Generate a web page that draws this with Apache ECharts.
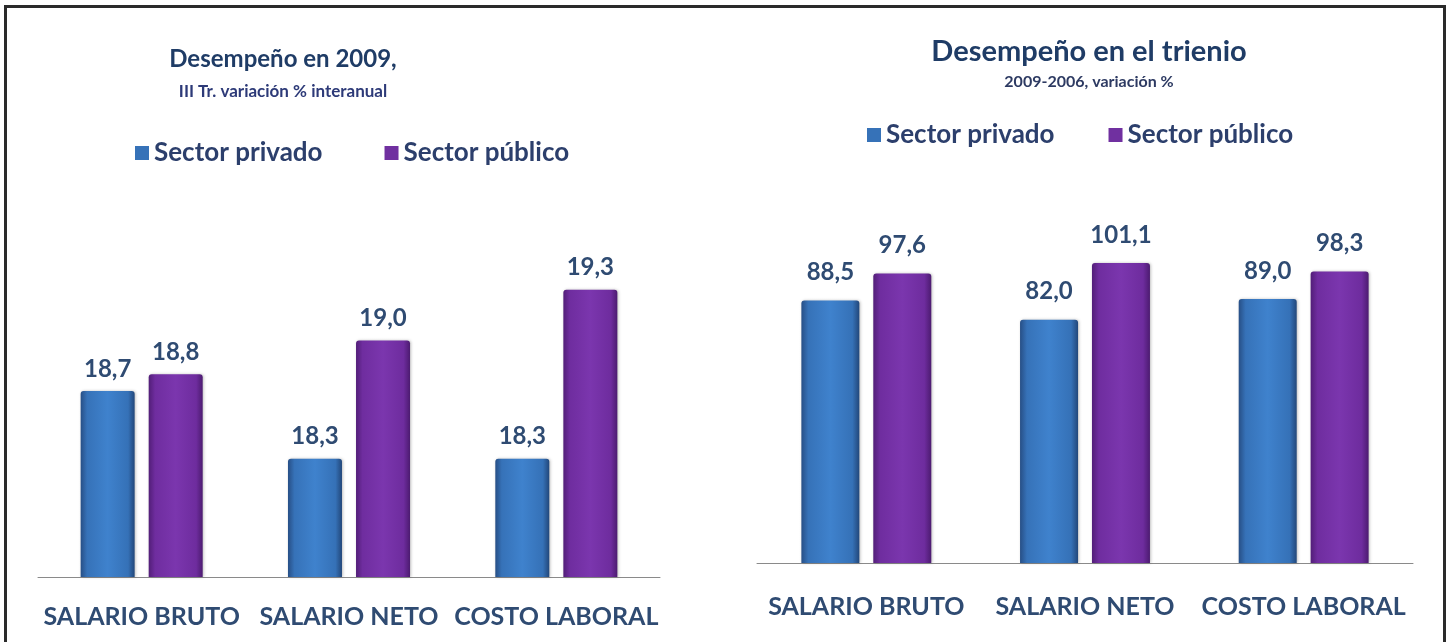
<!DOCTYPE html>
<html><head><meta charset="utf-8">
<script src="https://cdn.jsdelivr.net/npm/echarts@6/dist/echarts.min.js"></script>
<style>html,body{margin:0;padding:0;background:#fff;}#c{width:1452px;height:642px;}</style>
</head><body><div id="c"></div>
<script>
const categories = ['SALARIO BRUTO', 'SALARIO NETO', 'COSTO LABORAL'];
const seriesNames = ['Sector privado', 'Sector público'];
const leftPrivado = [18.7, 18.3, 18.3];
const leftPublico = [18.8, 19.0, 19.3];
const rightPrivado = [88.5, 82.0, 89.0];
const rightPublico = [97.6, 101.1, 98.3];
const leftTitle = 'Desempeño en 2009,';
const leftSubtitle = 'III Tr. variación % interanual';
const rightTitle = 'Desempeño en el trienio';
const rightSubtitle = '2009-2006, variación %';

const FONT = 'Lato, "Open Sans", sans-serif';
const G = echarts.graphic.LinearGradient;
const blueGrad = new G(0,0,1,0,[{offset:0,color:'#274f86'},{offset:0.12,color:'#3672b8'},{offset:0.5,color:'#3f82cd'},{offset:0.88,color:'#3571b7'},{offset:1,color:'#22477a'}]);
const purpGrad = new G(0,0,1,0,[{offset:0,color:'#521e78'},{offset:0.12,color:'#6f2d9f'},{offset:0.5,color:'#7b36ae'},{offset:0.88,color:'#6e2c9e'},{offset:1,color:'#4c1b70'}]);
const fmt = p => p.value.toFixed(1).replace('.', ',');

function bar(name, data, idx, color, bw, gap, dist){
  return {type:'bar', name, data, xAxisIndex:idx, yAxisIndex:idx, barWidth:bw, barGap:gap,
    itemStyle:{color, borderRadius:[3,3,0,0], shadowColor:'rgba(0,0,0,0.25)', shadowBlur:3, shadowOffsetX:1},
    label:{show:true, position:'top', distance:dist, formatter:fmt, fontFamily:FONT, fontWeight:'bold', fontSize:24, color:'#2f4b72'}};
}
const legendData = [{name:seriesNames[0], itemStyle:{color:'#3672b8'}},{name:seriesNames[1], itemStyle:{color:'#7030a0'}}];
const legendText = {fontFamily:FONT, fontWeight:'bold', fontSize:26, color:'#2c3f6c'};
const chart = echarts.init(document.getElementById('c'));
chart.setOption({
  animation:false,
  backgroundColor:'#ffffff',
  title:[
    {text:leftTitle, subtext:leftSubtitle, left:278, top:42, textAlign:'center', itemGap:12,
     textStyle:{fontFamily:FONT, fontWeight:'bold', fontSize:24, color:'#1f3c66'},
     subtextStyle:{fontFamily:FONT, fontWeight:'bold', fontSize:17, color:'#2d3a78'}},
    {text:rightTitle, subtext:rightSubtitle, left:1084, top:32, textAlign:'center', itemGap:8,
     textStyle:{fontFamily:FONT, fontWeight:'bold', fontSize:29, color:'#1f3c66'},
     subtextStyle:{fontFamily:FONT, fontWeight:'bold', fontSize:16, color:'#2d3a62'}}
  ],
  legend:[
    {data:legendData, left:130, top:135, itemWidth:14, itemHeight:14, icon:'rect', itemGap:62,
     textStyle:legendText, selectedMode:false},
    {data:legendData, left:862, top:117, itemWidth:14, itemHeight:14, icon:'rect', itemGap:54,
     textStyle:legendText, selectedMode:false}
  ],
  grid:[
    {left:38, width:622, top:239, height:338},
    {left:757, width:656, top:207, height:356}
  ],
  xAxis:[
    {type:'category', gridIndex:0, data:categories, axisTick:{show:false},
     axisLine:{lineStyle:{color:'#8a8a8a', width:1}},
     axisLabel:{interval:0, margin:27, fontFamily:FONT, fontWeight:'bold', fontSize:25, color:'#2f4b72'}},
    {type:'category', gridIndex:1, data:categories, axisTick:{show:false},
     axisLine:{lineStyle:{color:'#8a8a8a', width:1}},
     axisLabel:{interval:0, margin:31, fontFamily:FONT, fontWeight:'bold', fontSize:25, color:'#2f4b72'}}
  ],
  yAxis:[
    {type:'value', gridIndex:0, min:17.6, max:19.6, show:false, splitLine:{show:false}},
    {type:'value', gridIndex:1, min:0, max:120, show:false, splitLine:{show:false}}
  ],
  series:[
    bar(seriesNames[0], leftPrivado, 0, blueGrad, 54, '26%', 10),
    bar(seriesNames[1], leftPublico, 0, purpGrad, 54, '26%', 10),
    bar(seriesNames[0], rightPrivado, 1, blueGrad, 58, '24%', 16),
    bar(seriesNames[1], rightPublico, 1, purpGrad, 58, '24%', 16)
  ],
  graphic:[
    {type:'rect', shape:{x:5.5, y:6.5, width:1439, height:660}, style:{fill:'none', stroke:'#2a2a2a', lineWidth:3}, silent:true}
  ]
});
</script></body></html>
